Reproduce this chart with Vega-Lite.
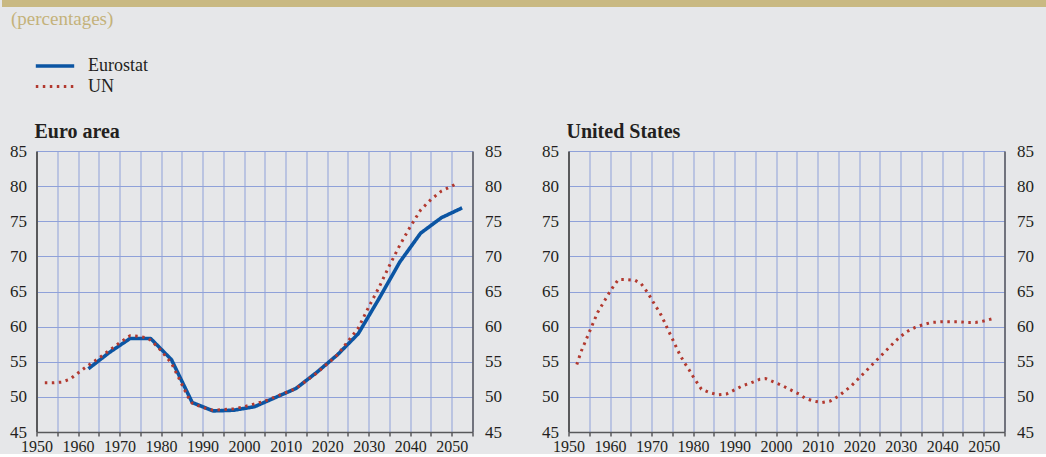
{
  "$schema": "https://vega.github.io/schema/vega-lite/v6.json",
  "background": "#e6e7e9",
  "padding": 0,
  "config": {
    "font": "Liberation Serif",
    "view": {"stroke": null},
    "axis": {"labelFont": "Liberation Serif", "labelColor": "#231f20", "title": null}
  },
  "datasets": {
    "euro": [
      {"source": "Eurostat", "year": 1962.5, "value": 54.0},
      {"source": "Eurostat", "year": 1967.5, "value": 56.3},
      {"source": "Eurostat", "year": 1972.5, "value": 58.3},
      {"source": "Eurostat", "year": 1977.5, "value": 58.3},
      {"source": "Eurostat", "year": 1982.5, "value": 55.3},
      {"source": "Eurostat", "year": 1987.5, "value": 49.2},
      {"source": "Eurostat", "year": 1992.5, "value": 48.0},
      {"source": "Eurostat", "year": 1997.5, "value": 48.1},
      {"source": "Eurostat", "year": 2002.5, "value": 48.6},
      {"source": "Eurostat", "year": 2007.5, "value": 49.9},
      {"source": "Eurostat", "year": 2012.5, "value": 51.2},
      {"source": "Eurostat", "year": 2017.5, "value": 53.5},
      {"source": "Eurostat", "year": 2022.5, "value": 56.0},
      {"source": "Eurostat", "year": 2027.5, "value": 59.0},
      {"source": "Eurostat", "year": 2032.5, "value": 64.0},
      {"source": "Eurostat", "year": 2037.5, "value": 69.2},
      {"source": "Eurostat", "year": 2042.5, "value": 73.3},
      {"source": "Eurostat", "year": 2047.5, "value": 75.5},
      {"source": "Eurostat", "year": 2052.5, "value": 76.9},
      {"source": "UN", "year": 1952, "value": 52.0},
      {"source": "UN", "year": 1954, "value": 52.0},
      {"source": "UN", "year": 1956, "value": 52.1},
      {"source": "UN", "year": 1958, "value": 52.5},
      {"source": "UN", "year": 1960, "value": 53.4},
      {"source": "UN", "year": 1962.5, "value": 54.5},
      {"source": "UN", "year": 1965, "value": 55.5},
      {"source": "UN", "year": 1967.5, "value": 56.6},
      {"source": "UN", "year": 1970, "value": 57.7},
      {"source": "UN", "year": 1972.5, "value": 58.7},
      {"source": "UN", "year": 1975, "value": 58.6},
      {"source": "UN", "year": 1977, "value": 58.3},
      {"source": "UN", "year": 1978.5, "value": 57.5},
      {"source": "UN", "year": 1980, "value": 56.6},
      {"source": "UN", "year": 1981.5, "value": 55.5},
      {"source": "UN", "year": 1982.5, "value": 54.8},
      {"source": "UN", "year": 1983.5, "value": 53.6},
      {"source": "UN", "year": 1984.5, "value": 52.4},
      {"source": "UN", "year": 1985.5, "value": 51.2},
      {"source": "UN", "year": 1986.5, "value": 50.0},
      {"source": "UN", "year": 1987.5, "value": 49.1},
      {"source": "UN", "year": 1990, "value": 48.5},
      {"source": "UN", "year": 1992.5, "value": 48.1},
      {"source": "UN", "year": 1995, "value": 48.2},
      {"source": "UN", "year": 1997.5, "value": 48.3},
      {"source": "UN", "year": 2000, "value": 48.6},
      {"source": "UN", "year": 2002.5, "value": 49.0},
      {"source": "UN", "year": 2005, "value": 49.4},
      {"source": "UN", "year": 2007.5, "value": 50.0},
      {"source": "UN", "year": 2010, "value": 50.6},
      {"source": "UN", "year": 2012.5, "value": 51.2},
      {"source": "UN", "year": 2015, "value": 52.3},
      {"source": "UN", "year": 2017.5, "value": 53.4},
      {"source": "UN", "year": 2020, "value": 54.7},
      {"source": "UN", "year": 2022.5, "value": 56.0},
      {"source": "UN", "year": 2025, "value": 57.9},
      {"source": "UN", "year": 2027.5, "value": 59.8},
      {"source": "UN", "year": 2030, "value": 62.8},
      {"source": "UN", "year": 2032.5, "value": 65.6},
      {"source": "UN", "year": 2035, "value": 68.7},
      {"source": "UN", "year": 2037.5, "value": 71.6},
      {"source": "UN", "year": 2040, "value": 74.2},
      {"source": "UN", "year": 2042.5, "value": 76.6},
      {"source": "UN", "year": 2045, "value": 78.1},
      {"source": "UN", "year": 2047.5, "value": 79.3},
      {"source": "UN", "year": 2050, "value": 80.0},
      {"source": "UN", "year": 2051, "value": 80.3}
    ],
    "us": [
      {"source": "UN", "year": 1952, "value": 54.6},
      {"source": "UN", "year": 1953, "value": 56.4},
      {"source": "UN", "year": 1954, "value": 57.8},
      {"source": "UN", "year": 1955, "value": 59.2},
      {"source": "UN", "year": 1956, "value": 60.6},
      {"source": "UN", "year": 1957, "value": 62.0},
      {"source": "UN", "year": 1958, "value": 63.0},
      {"source": "UN", "year": 1959, "value": 64.0},
      {"source": "UN", "year": 1960, "value": 65.0},
      {"source": "UN", "year": 1961, "value": 65.9},
      {"source": "UN", "year": 1962, "value": 66.7},
      {"source": "UN", "year": 1964, "value": 66.7},
      {"source": "UN", "year": 1966, "value": 66.6},
      {"source": "UN", "year": 1967.5, "value": 66.1},
      {"source": "UN", "year": 1969, "value": 64.9},
      {"source": "UN", "year": 1970, "value": 63.9},
      {"source": "UN", "year": 1971, "value": 62.9},
      {"source": "UN", "year": 1972, "value": 62.0},
      {"source": "UN", "year": 1973, "value": 60.8},
      {"source": "UN", "year": 1974, "value": 59.5},
      {"source": "UN", "year": 1975, "value": 58.3},
      {"source": "UN", "year": 1976, "value": 57.0},
      {"source": "UN", "year": 1977, "value": 55.8},
      {"source": "UN", "year": 1978, "value": 54.8},
      {"source": "UN", "year": 1979, "value": 53.9},
      {"source": "UN", "year": 1980, "value": 52.9},
      {"source": "UN", "year": 1981, "value": 52.0},
      {"source": "UN", "year": 1982, "value": 51.1},
      {"source": "UN", "year": 1984, "value": 50.6},
      {"source": "UN", "year": 1986, "value": 50.3},
      {"source": "UN", "year": 1988, "value": 50.4},
      {"source": "UN", "year": 1990, "value": 51.0},
      {"source": "UN", "year": 1992, "value": 51.6},
      {"source": "UN", "year": 1994, "value": 52.0},
      {"source": "UN", "year": 1996, "value": 52.5},
      {"source": "UN", "year": 1997.5, "value": 52.6},
      {"source": "UN", "year": 1999.5, "value": 52.1},
      {"source": "UN", "year": 2001.5, "value": 51.6},
      {"source": "UN", "year": 2003.5, "value": 51.0},
      {"source": "UN", "year": 2005.5, "value": 50.4},
      {"source": "UN", "year": 2007, "value": 49.8},
      {"source": "UN", "year": 2009, "value": 49.4},
      {"source": "UN", "year": 2011, "value": 49.2},
      {"source": "UN", "year": 2013, "value": 49.4},
      {"source": "UN", "year": 2015, "value": 50.1},
      {"source": "UN", "year": 2016.5, "value": 50.8},
      {"source": "UN", "year": 2018, "value": 51.5},
      {"source": "UN", "year": 2019.5, "value": 52.4},
      {"source": "UN", "year": 2021, "value": 53.3},
      {"source": "UN", "year": 2022.5, "value": 54.2},
      {"source": "UN", "year": 2024, "value": 55.1},
      {"source": "UN", "year": 2025.5, "value": 56.0},
      {"source": "UN", "year": 2027, "value": 56.9},
      {"source": "UN", "year": 2028.5, "value": 57.8},
      {"source": "UN", "year": 2030, "value": 58.6},
      {"source": "UN", "year": 2031.5, "value": 59.3},
      {"source": "UN", "year": 2033.5, "value": 59.9},
      {"source": "UN", "year": 2035.5, "value": 60.3},
      {"source": "UN", "year": 2037.5, "value": 60.6},
      {"source": "UN", "year": 2040, "value": 60.7},
      {"source": "UN", "year": 2042, "value": 60.7},
      {"source": "UN", "year": 2044, "value": 60.7},
      {"source": "UN", "year": 2046, "value": 60.6},
      {"source": "UN", "year": 2048, "value": 60.6},
      {"source": "UN", "year": 2050, "value": 60.8},
      {"source": "UN", "year": 2052, "value": 61.1}
    ]
  },
  "center": true,
  "spacing": 93,
  "vconcat": [
    {
      "width": 1066,
      "height": 7,
      "view": {"fill": "#c9b982", "stroke": null},
      "data": {"values": []},
      "mark": "text",
      "title": {"text": "(percentages)", "orient": "bottom", "anchor": "start", "frame": "group", "dx": 9, "offset": 3, "fontSize": 19, "fontWeight": "normal", "font": "Liberation Serif", "color": "#c4b27a"}
    },
    {
      "bounds": "flush",
      "spacing": 96,
      "hconcat": [
        {
          "width": 436,
          "height": 281,
          "data": {"name": "euro"},
          "title": {"text": "Euro area", "anchor": "start", "frame": "group", "dx": -2, "offset": 0, "fontSize": 20, "fontWeight": "bold", "font": "Liberation Serif", "color": "#231f20"},
          "resolve": {"axis": {"y": "independent"}},
          "layer": [
            {
              "mark": {"type": "line", "strokeJoin": "round"},
              "encoding": {
                "x": {"field": "year", "type": "quantitative", "scale": {"domain": [1950, 2055], "nice": false, "zero": false},
                      "axis": {"values": [1950,1955,1960,1965,1970,1975,1980,1985,1990,1995,2000,2005,2010,2015,2020,2025,2030,2035,2040,2045,2050,2055], "format": "d", "labelExpr": "datum.value % 10 === 0 ? datum.label : ''", "grid": true, "gridColor": "#8fa1d9", "gridWidth": 1, "domainColor": "#58595b", "domainWidth": 1.5, "tickColor": "#58595b", "tickSize": 4, "tickWidth": 1.5, "labelFontSize": 16, "labelPadding": 2, "labelFlush": false}},
                "y": {"field": "value", "type": "quantitative", "scale": {"domain": [45, 85], "nice": false, "zero": false},
                      "axis": {"orient": "left", "values": [45,50,55,60,65,70,75,80,85], "title": "x", "titleColor": "#e6e7e9", "titleFontSize": 9, "titlePadding": 0, "grid": true, "gridColor": "#8fa1d9", "gridWidth": 1, "domainColor": "#58595b", "domainWidth": 2, "ticks": false, "labelFontSize": 17, "labelPadding": 10, "labelFlush": false}},
                "color": {"field": "source", "type": "nominal", "scale": {"domain": ["Eurostat", "UN"], "range": ["#0b55a3", "#b2392f"]},
                          "legend": {"orient": "none", "legendX": 43, "legendY": 56, "title": null, "symbolType": "M-2.4,0H2.4", "symbolSize": 256, "labelFontSize": 18, "labelFont": "Liberation Serif", "labelColor": "#231f20", "labelOffset": 23}},
                "strokeDash": {"field": "source", "type": "nominal", "scale": {"domain": ["Eurostat", "UN"], "range": [[1, 0], [2.5, 4.5]]}},
                "strokeWidth": {"field": "source", "type": "nominal", "scale": {"domain": ["Eurostat", "UN"], "range": [3.6, 3]}}
              }
            },
            {
              "mark": {"type": "line", "opacity": 0},
              "encoding": {
                "x": {"field": "year", "type": "quantitative", "scale": {"domain": [1950, 2055], "nice": false, "zero": false},
                      "axis": {"values": [1950,1955,1960,1965,1970,1975,1980,1985,1990,1995,2000,2005,2010,2015,2020,2025,2030,2035,2040,2045,2050,2055], "format": "d", "labelExpr": "datum.value % 10 === 0 ? datum.label : ''", "grid": true, "gridColor": "#8fa1d9", "gridWidth": 1, "domainColor": "#58595b", "domainWidth": 1.5, "tickColor": "#58595b", "tickSize": 4, "tickWidth": 1.5, "labelFontSize": 16, "labelPadding": 2, "labelFlush": false}},
                "y": {"field": "value", "type": "quantitative",
                      "axis": {"orient": "right", "values": [45,50,55,60,65,70,75,80,85], "grid": false, "domainColor": "#58595b", "domainWidth": 1.5, "ticks": false, "labelFontSize": 17, "labelPadding": 12, "labelFlush": false}}
              }
            }
          ]
        },
        {
          "width": 436,
          "height": 281,
          "data": {"name": "us"},
          "title": {"text": "United States", "anchor": "start", "frame": "group", "dx": -2, "offset": 0, "fontSize": 20, "fontWeight": "bold", "font": "Liberation Serif", "color": "#231f20"},
          "resolve": {"axis": {"y": "independent"}},
          "layer": [
            {
              "mark": {"type": "line", "strokeJoin": "round"},
              "encoding": {
                "x": {"field": "year", "type": "quantitative", "scale": {"domain": [1950, 2055], "nice": false, "zero": false},
                      "axis": {"values": [1950,1955,1960,1965,1970,1975,1980,1985,1990,1995,2000,2005,2010,2015,2020,2025,2030,2035,2040,2045,2050,2055], "format": "d", "labelExpr": "datum.value % 10 === 0 ? datum.label : ''", "grid": true, "gridColor": "#8fa1d9", "gridWidth": 1, "domainColor": "#58595b", "domainWidth": 1.5, "tickColor": "#58595b", "tickSize": 4, "tickWidth": 1.5, "labelFontSize": 16, "labelPadding": 2, "labelFlush": false}},
                "y": {"field": "value", "type": "quantitative", "scale": {"domain": [45, 85], "nice": false, "zero": false},
                      "axis": {"orient": "left", "values": [45,50,55,60,65,70,75,80,85], "grid": true, "gridColor": "#8fa1d9", "gridWidth": 1, "domainColor": "#58595b", "domainWidth": 2, "ticks": false, "labelFontSize": 17, "labelPadding": 10, "labelFlush": false}},
                "color": {"field": "source", "type": "nominal", "scale": {"domain": ["Eurostat", "UN"], "range": ["#0b55a3", "#b2392f"]},
                          "legend": {"orient": "none", "legendX": 43, "legendY": 56, "title": null, "symbolType": "M-2.4,0H2.4", "symbolSize": 256, "labelFontSize": 18, "labelFont": "Liberation Serif", "labelColor": "#231f20", "labelOffset": 23}},
                "strokeDash": {"field": "source", "type": "nominal", "scale": {"domain": ["Eurostat", "UN"], "range": [[1, 0], [2.5, 4.5]]}},
                "strokeWidth": {"field": "source", "type": "nominal", "scale": {"domain": ["Eurostat", "UN"], "range": [3.6, 3]}}
              }
            },
            {
              "mark": {"type": "line", "opacity": 0},
              "encoding": {
                "x": {"field": "year", "type": "quantitative", "scale": {"domain": [1950, 2055], "nice": false, "zero": false},
                      "axis": {"values": [1950,1955,1960,1965,1970,1975,1980,1985,1990,1995,2000,2005,2010,2015,2020,2025,2030,2035,2040,2045,2050,2055], "format": "d", "labelExpr": "datum.value % 10 === 0 ? datum.label : ''", "grid": true, "gridColor": "#8fa1d9", "gridWidth": 1, "domainColor": "#58595b", "domainWidth": 1.5, "tickColor": "#58595b", "tickSize": 4, "tickWidth": 1.5, "labelFontSize": 16, "labelPadding": 2, "labelFlush": false}},
                "y": {"field": "value", "type": "quantitative",
                      "axis": {"orient": "right", "values": [45,50,55,60,65,70,75,80,85], "grid": false, "domainColor": "#58595b", "domainWidth": 1.5, "ticks": false, "labelFontSize": 17, "labelPadding": 12, "labelFlush": false}}
              }
            }
          ]
        }
      ]
    }
  ]
}
